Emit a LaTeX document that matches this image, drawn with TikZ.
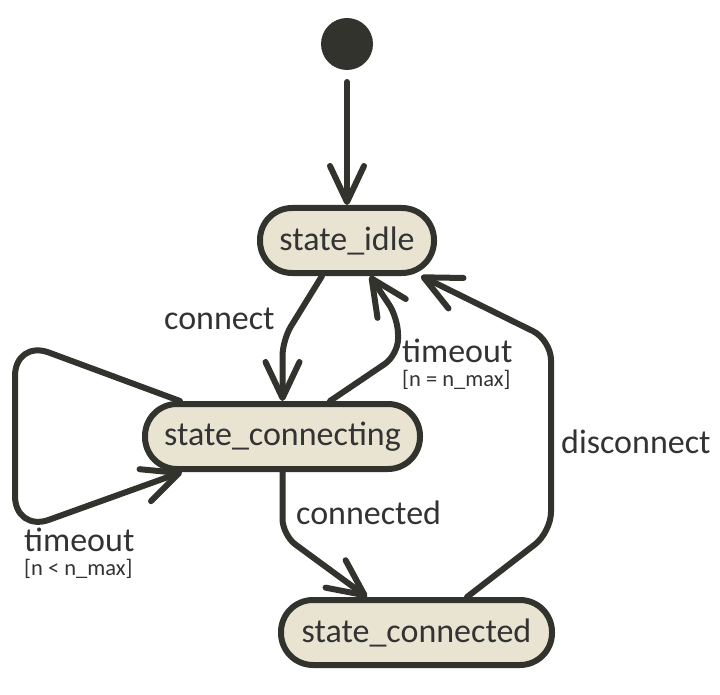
\documentclass[tikz,border=0pt]{standalone}
\usepackage{fontspec}
\setmainfont{Carlito}
\usetikzlibrary{arrows.meta}
\definecolor{ink}{HTML}{33332D}
\definecolor{beige}{HTML}{E9E4D2}
\definecolor{txt}{HTML}{333333}
\tikzset{
  statebox/.style={draw=ink, fill=beige, line width=6pt, rounded corners=32pt,
    minimum height=65pt, inner sep=0pt, text=txt, font=\fontsize{34}{40}\selectfont},
  arr/.style={draw=ink, line width=6pt, line cap=round, line join=round,
    -{Straight Barb[length=36pt,width=34pt,round]}},
  lbl/.style={anchor=base west, inner sep=0pt, text=txt, font=\fontsize{34}{40}\selectfont},
  guard/.style={anchor=base west, inner sep=0pt, text=txt, font=\fontsize{22.5}{26}\selectfont}
}
\begin{document}
\begin{tikzpicture}[x=1pt,y=-1pt]
\useasboundingbox (0,0) rectangle (720,695);
\node[circle, fill=ink, minimum size=52pt, inner sep=0pt, outer sep=12pt] (init) at (347,44) {};
\node[statebox, minimum width=174pt] (idle) at (347,240.5) {state\_idle};
\node[statebox, minimum width=275pt] (connecting) at (282.5,436.5) {state\_connecting};
\node[statebox, minimum width=271pt] (connected) at (416.5,632.5) {state\_connected};

\draw[arr] (init) -- (idle);
\draw[arr] ([xshift=-25pt]idle.south) [rounded corners=16pt] -- (282.5,340) -- (connecting.north);
\draw[arr] ([xshift=47.5pt]connecting.north) [rounded corners=16pt] -- (398,355) -- (398,318) -- ([xshift=23pt]idle.south);
\draw[arr] (connecting.south) [rounded corners=16pt] -- (282.5,535) -- ([xshift=-49.5pt]connected.north);
\draw[arr] ([xshift=50.5pt]connected.north) [rounded corners=20pt] -- (551,532) -- (551,340) -- ([xshift=74pt]idle.south);
\draw[arr] ([xshift=-102.5pt]connecting.north) [rounded corners=36pt] -- (15,340) -- (15,532) -- ([xshift=-100.5pt]connecting.south);

\node[lbl] (lconnect) at (164,329) {connect};
\node[lbl] (ltimeout1) at (402,362) {timeout};
\node[guard] (lguard1) at (402,386) {[n = n\_max]};
\node[lbl] (ldisconnect) at (561,453) {disconnect};
\node[lbl] (lconnected) at (296,524) {connected};
\node[lbl] (ltimeout2) at (24,551) {timeout};
\node[guard] (lguard2) at (24,575) {[n < n\_max]};
\end{tikzpicture}
\end{document}
